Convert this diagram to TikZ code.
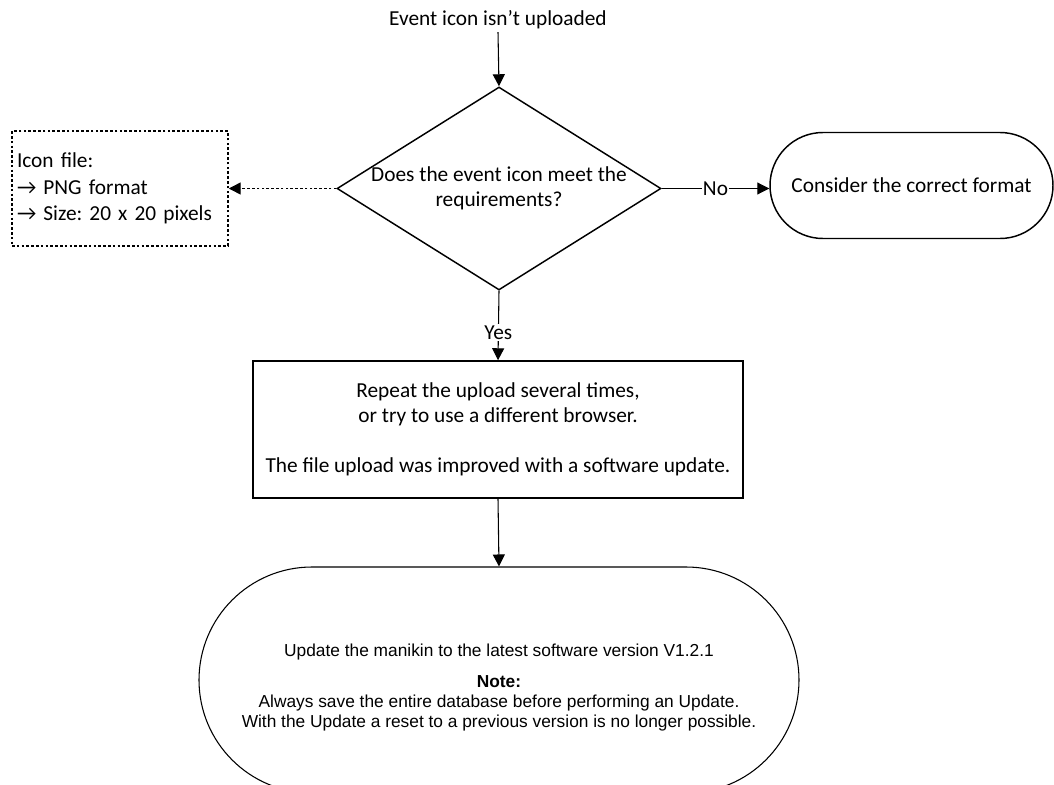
\documentclass[tikz,border=0pt]{standalone}
\usepackage{fontspec}
\setmainfont{Carlito}
\newfontfamily\arialfont{Liberation Sans}
\usetikzlibrary{shapes.geometric,arrows.meta}
\begin{document}
\frenchspacing
\begin{tikzpicture}[x=0.75pt,y=-0.75pt,
  every node/.style={font=\fontsize{16}{18.75}\selectfont},
  conn/.style={draw=black, line width=0.8pt, -{Triangle[length=9pt,width=9pt]}},
  dots/.style={dash pattern=on 2pt off 1.6pt},
  decision/.style={draw, line width=1.1pt, diamond, inner sep=0pt, minimum width=243pt, minimum height=152.25pt},
  pill/.style={draw, line width=1.1pt, rectangle, rounded corners=39.75pt, minimum width=212.25pt, minimum height=79.5pt},
  dotbox/.style={draw, line width=1.1pt, dots, align=left, text width=154.5pt, inner xsep=3.75pt, minimum height=86.25pt, font=\fontsize{16}{20}\selectfont},
  stepbox/.style={draw, line width=1.1pt, rectangle, align=center, minimum width=367.5pt, minimum height=102.75pt},
  endbox/.style={draw, line width=0.8pt, rectangle, rounded corners=84.75pt, minimum width=450pt, minimum height=169.5pt},
  endtext/.style={align=center, font=\arialfont\fontsize{13}{15}\selectfont},
  lbl/.style={fill=white, inner sep=1pt}
]
\useasboundingbox (0,0) rectangle (1054,785);

\node[inner sep=2pt] (start) at (498,20) {Event icon isn’t uploaded};
\node[decision] (dec) at (499,188.5) {};
\node[align=center] (dectext) at (dec.center) {Does the event icon meet the\\requirements?};
\node[pill] (fmt) at (911.5,185.5) {Consider the correct format};
\node[dotbox] (icon) at (120,188.5) {Icon file:\\→ PNG format\\→ Size: 20 x 20 pixels};
\node[stepbox] (rep) at (498,429.5) {Repeat the upload several times,\\or try to use a different browser.\\[18.75pt]The file upload was improved with a software update.};
\node[endbox] (upd) at (499,680) {};
\node[endtext] (updtext) at (499,688) {Update the manikin to the latest software version V1.2.1\\[8.25pt]\textbf{Note:}\\Always save the entire database before performing an Update.\\With the Update a reset to a previous version is no longer possible.};

\draw[conn] (start.south) -- (dec.north);
\draw[conn, dots, line width=1.1pt] (dec.west) -- (icon.east);
\draw[conn] (dec.east) -- node[lbl]{No} (dec.east -| fmt.west);
\draw[conn] (dec.south) -- node[lbl, pos=0.6]{Yes} (rep.north);
\draw[conn] (rep.south) -- (upd.north);
\end{tikzpicture}
\end{document}
